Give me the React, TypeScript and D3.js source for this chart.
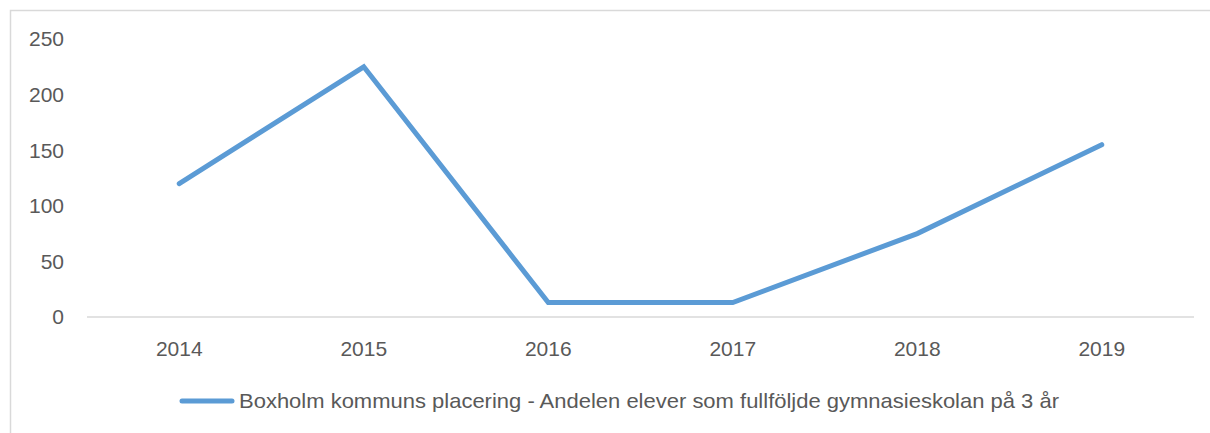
import { useEffect, useRef } from "react";
import * as d3 from "d3";

const years = ["2014", "2015", "2016", "2017", "2018", "2019"];
const placering = [120, 225, 13, 13, 75, 155];
const yTicks = [0, 50, 100, 150, 200, 250];
const seriesName =
  "Boxholm kommuns placering - Andelen elever som fullföljde gymnasieskolan på 3 år";

const W = 1210;
const H = 433;
const FONT = "'Liberation Sans Narrow', 'Arial Narrow', 'Liberation Sans', sans-serif";

export default function App() {
  const svgRef = useRef<SVGSVGElement>(null);

  useEffect(() => {
    const svg = d3.select(svgRef.current);
    svg.selectAll("*").remove();

    const x = d3.scaleBand().domain(years).range([87, 1194]);
    const y = d3.scaleLinear().domain([0, 250]).range([317, 39]);

    // chart frame (only top/left visible in the crop)
    svg.append("rect")
      .attr("x", 10.5)
      .attr("y", 10.5)
      .attr("width", 1400)
      .attr("height", 600)
      .attr("fill", "white")
      .attr("stroke", "#d9d9d9")
      .attr("stroke-width", 1.5);

    // y labels
    svg.append("g")
      .selectAll("text")
      .data(yTicks)
      .join("text")
      .attr("x", 64)
      .attr("y", d => y(d))
      .attr("dy", "0.35em")
      .attr("text-anchor", "end")
      .attr("font-family", FONT)
      .attr("font-size", 21)
      .attr("fill", "#595959")
      .text(d => d);

    // baseline
    svg.append("line")
      .attr("x1", 87)
      .attr("x2", 1194)
      .attr("y1", y(0))
      .attr("y2", y(0))
      .attr("stroke", "#d9d9d9")
      .attr("stroke-width", 1.5);

    // x labels
    svg.append("g")
      .selectAll("text")
      .data(years)
      .join("text")
      .attr("x", d => x(d)! + x.bandwidth() / 2)
      .attr("y", 349)
      .attr("dy", "0.35em")
      .attr("text-anchor", "middle")
      .attr("font-family", FONT)
      .attr("font-size", 21)
      .attr("fill", "#595959")
      .text(d => d);

    const line = d3.line<number>()
      .x((_, i) => x(years[i])! + x.bandwidth() / 2)
      .y(d => y(d));

    svg.append("path")
      .datum(placering)
      .attr("d", line)
      .attr("fill", "none")
      .attr("stroke", "#5b9bd5")
      .attr("stroke-width", 5)
      .attr("stroke-linejoin", "miter")
      .attr("stroke-linecap", "round");

    // legend
    const lg = svg.append("g");
    lg.append("line")
      .attr("x1", 182)
      .attr("x2", 232)
      .attr("y1", 401)
      .attr("y2", 401)
      .attr("stroke", "#5b9bd5")
      .attr("stroke-width", 5)
      .attr("stroke-linecap", "round");
    lg.append("text")
      .attr("x", 239)
      .attr("y", 401)
      .attr("dy", "0.35em")
      .attr("font-family", FONT)
      .attr("font-size", 21)
      .attr("fill", "#595959")
      .attr("textLength", 820)
      .attr("lengthAdjust", "spacingAndGlyphs")
      .text(seriesName);
  }, []);

  return (
    <svg
      ref={svgRef}
      width={W}
      height={H}
      style={{ position: "absolute", left: 0, top: 0, background: "white" }}
    ></svg>
  );
}
